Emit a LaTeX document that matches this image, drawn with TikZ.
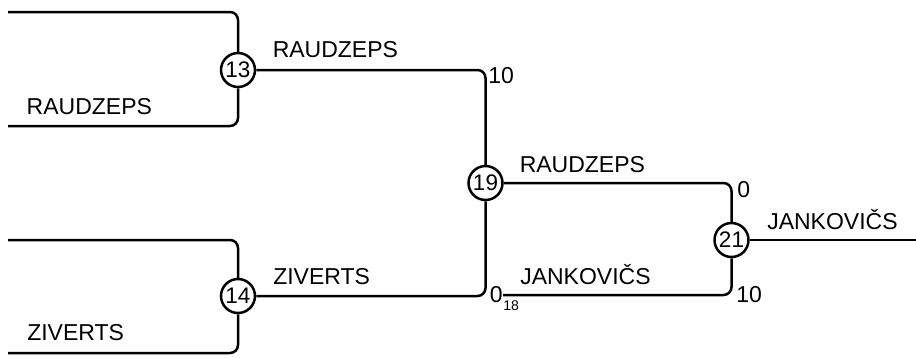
\documentclass[tikz,border=0pt]{standalone}
\usepackage{fontspec}
\setmainfont{Liberation Sans}
\begin{document}
\begin{tikzpicture}[x=1pt, y=-1pt, line width=2.5pt,
        match/.style={circle, draw, fill=white, inner sep=0pt, minimum size=34pt, font=\fontsize{22.5}{26}\selectfont},
        player/.style={anchor=base west, inner sep=0pt, font=\fontsize{23}{27}\selectfont},
        pts/.style={anchor=base west, inner sep=0pt, font=\fontsize{23}{27}\selectfont},
        small/.style={anchor=base west, inner sep=0pt, font=\fontsize{14}{16}\selectfont},
        link/.style={rounded corners=8pt}]
    \useasboundingbox (0, 0) rectangle (916, 357);

    % matches
    \node[match] (m13) at (238, 70) {13};
    \node[match] (m14) at (238, 296) {14};
    \node[match] (m19) at (485.5, 183) {19};
    \node[match] (m21) at (731.5, 240) {21};

    % free ends
    \coordinate (a1) at (8, 12);   \coordinate (a2) at (8, 126);
    \coordinate (b1) at (8, 240);  \coordinate (b2) at (8, 353);
    \coordinate (c18) at (503, 295);
    \coordinate (out) at (916, 240);

    \draw[link] (a1) -| (m13); \draw[link] (a2) -| (m13);
    \draw[link] (b1) -| (m14); \draw[link] (b2) -| (m14);
    \draw[link] (m13) -| (m19);  % 13 -- 19
    \draw[link] (m14) -| (m19);  % 14 -- 19
    \draw[link] (m19) -| (m21);  % 19 -- 21
    \draw[link] (c18) -| (m21);  % 18 -- 21
    \draw (m21) -- (out);

    % names
    \foreach \x/\y/\t [count=\i] in {25.5/114/RAUDZEPS, 271.5/57/RAUDZEPS, 518.5/172/RAUDZEPS,
                                     26/340/ZIVERTS, 272/284/ZIVERTS, 519/284/JANKOVIČS, 766/229/JANKOVIČS}
        \node[player] (p\i) at (\x, \y) {\t};

    % scores
    \foreach \x/\y/\t [count=\i] in {487/83/10, 736/197/0, 735/302/10, 488.5/302/0}
        \node[pts] (s\i) at (\x, \y) {\t};
    \node[small] (s18) at (502, 310) {18};
\end{tikzpicture}
\end{document}
